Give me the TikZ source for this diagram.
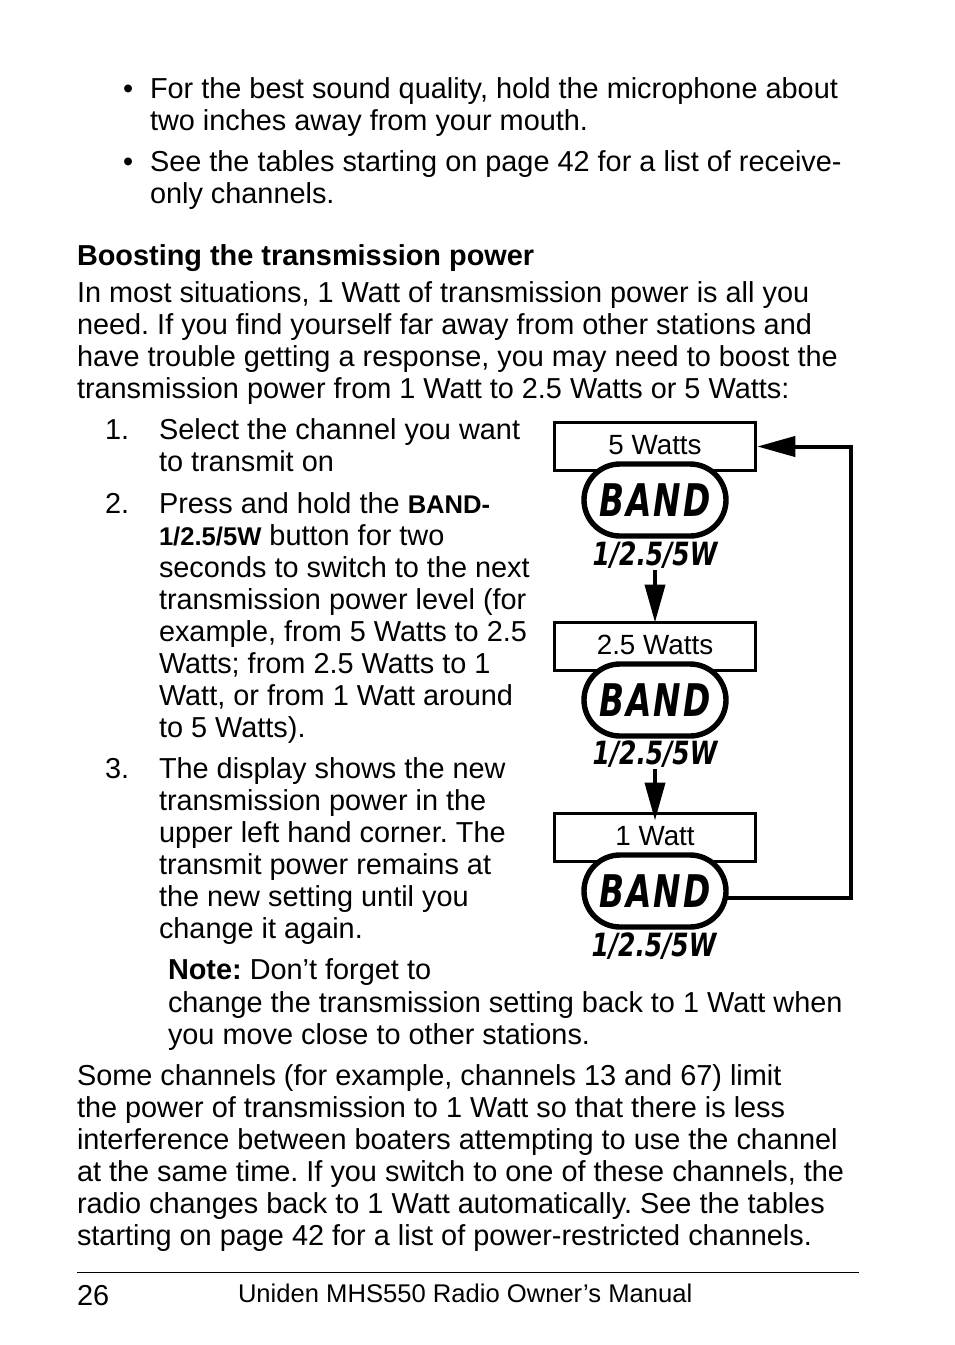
\documentclass[tikz,border=0pt]{standalone}
\usepackage{fontspec}
\usepackage{graphicx}
\setmainfont{Liberation Sans}
\newfontfamily\bandfont{DejaVu Sans}
\usetikzlibrary{arrows.meta,shapes.misc}
\frenchspacing
\newcommand{\tl}[4]{\node[txt] (#1) at (#2,#3) {#4};}
\newcommand{\smb}[1]{{\fontsize{25.6}{32}\selectfont\bfseries #1}}
\tikzset{
  txt/.style={anchor=base west,inner sep=0pt,outer sep=0pt,font=\fontsize{28.87}{32}\selectfont},
  powerbox/.style={draw=black,line width=3pt,fill=white,minimum width=200.5pt,minimum height=48pt,text height=20pt,text depth=5pt,inner sep=0pt,outer sep=0pt,font=\fontsize{27.8}{32}\selectfont},
  bandbtn/.style={rounded rectangle,draw=black,line width=5.4pt,fill=white,minimum width=142pt,minimum height=72pt,inner sep=0pt,outer sep=0pt,font=\fontsize{45}{45}\selectfont\bandfont\bfseries\itshape},
  bandlab/.style={inner sep=0pt,outer sep=0pt,font=\fontsize{32}{32}\selectfont\bandfont\bfseries\itshape},
  arr/.style={draw=black,line width=4pt,-{Triangle[length=38pt,width=20pt]}}
}
\newcommand{\bandtxt}{\scalebox{0.73}[1]{B\hspace{2.5pt}A\hspace{2.5pt}N\hspace{2.5pt}D}}
\newcommand{\labtxt}{\scalebox{0.78}[1]{1/2.5/5W}}
\begin{document}
\begin{tikzpicture}[x=1pt,y=-1pt]
\useasboundingbox (0,0) rectangle (954,1345);
\fill[white] (0,0) rectangle (954,1345);
\tl{b1}{123}{98}{•}
\tl{a1}{150}{98}{For the best sound quality, hold the microphone about}
\tl{a2}{150}{130}{two inches away from your mouth.}
\tl{b2}{123}{171}{•}
\tl{a3}{150}{171}{See the tables starting on page 42 for a list of receive-}
\tl{a4}{150}{203}{only channels.}
\tl{h1}{77}{265}{\bfseries Boosting the transmission power}
\tl{p1}{77}{302}{In most situations, 1 Watt of transmission power is all you}
\tl{p2}{77}{334}{need. If you find yourself far away from other stations and}
\tl{p3}{77}{366}{have trouble getting a response, you may need to boost the}
\tl{p4}{77}{398}{transmission power from 1 Watt to 2.5 Watts or 5 Watts:}
\tl{n1}{105}{439}{1.}
\tl{s1}{159}{439}{Select the channel you want}
\tl{s2}{159}{471}{to transmit on}
\tl{n2}{105}{513}{2.}
\tl{s3}{159}{513}{Press and hold the \smb{BAND-}}
\tl{s4}{159}{545}{\smb{1/2.5/5W} button for two}
\tl{s5}{159}{577}{seconds to switch to the next}
\tl{s6}{159}{609}{transmission power level (for}
\tl{s7}{159}{641}{example, from 5 Watts to 2.5}
\tl{s8}{159}{673}{Watts; from 2.5 Watts to 1}
\tl{s9}{159}{705}{Watt, or from 1 Watt around}
\tl{s10}{159}{737}{to 5 Watts).}
\tl{n3}{105}{778}{3.}
\tl{s11}{159}{778}{The display shows the new}
\tl{s12}{159}{810}{transmission power in the}
\tl{s13}{159}{842}{upper left hand corner. The}
\tl{s14}{159}{874}{transmit power remains at}
\tl{s15}{159}{906}{the new setting until you}
\tl{s16}{159}{938}{change it again.}
\tl{t1}{168}{979}{\textbf{Note:} Don’t forget to}
\tl{t2}{168}{1012}{change the transmission setting back to 1 Watt when}
\tl{t3}{168}{1044}{you move close to other stations.}
\tl{q1}{77}{1085}{Some channels (for example, channels 13 and 67) limit}
\tl{q2}{77}{1117}{the power of transmission to 1 Watt so that there is less}
\tl{q3}{77}{1149}{interference between boaters attempting to use the channel}
\tl{q4}{77}{1181}{at the same time. If you switch to one of these channels, the}
\tl{q5}{77}{1213}{radio changes back to 1 Watt automatically. See the tables}
\tl{q6}{77}{1245}{starting on page 42 for a list of power-restricted channels.}
\draw[line width=1pt] (77,1272.5) -- (859,1272.5);
\tl{pg}{77}{1305}{26}
\node[txt,font=\fontsize{25.6}{32}\selectfont] (ft) at (238,1302) {Uniden MHS550 Radio Owner’s Manual};
% diagram
\node[powerbox] (box1) at (655,446.5) {5 Watts};
\node[bandbtn] (btn1) at (655,500) {\bandtxt};
\node[bandlab] (lab1) at (655,555) {\labtxt};
\node[powerbox] (box2) at (655,646.5) {2.5 Watts};
\node[bandbtn] (btn2) at (655,700) {\bandtxt};
\node[bandlab] (lab2) at (655,754) {\labtxt};
\node[powerbox] (box3) at (655,837.5) {1 Watt};
\node[bandbtn] (btn3) at (655,891) {\bandtxt};
\node[bandlab] (lab3) at (654,946) {\labtxt};
\draw[arr] ([yshift=-2pt]lab1.south) -- (box2.north);
\draw[arr,shorten >=-7pt] ([yshift=-2pt]lab2.south) -- (box3.north);
\draw[arr,shorten >=2pt] ([yshift=-7pt]btn3.east) -- ++(125,0) |- (box1.east);
\end{tikzpicture}
\end{document}
